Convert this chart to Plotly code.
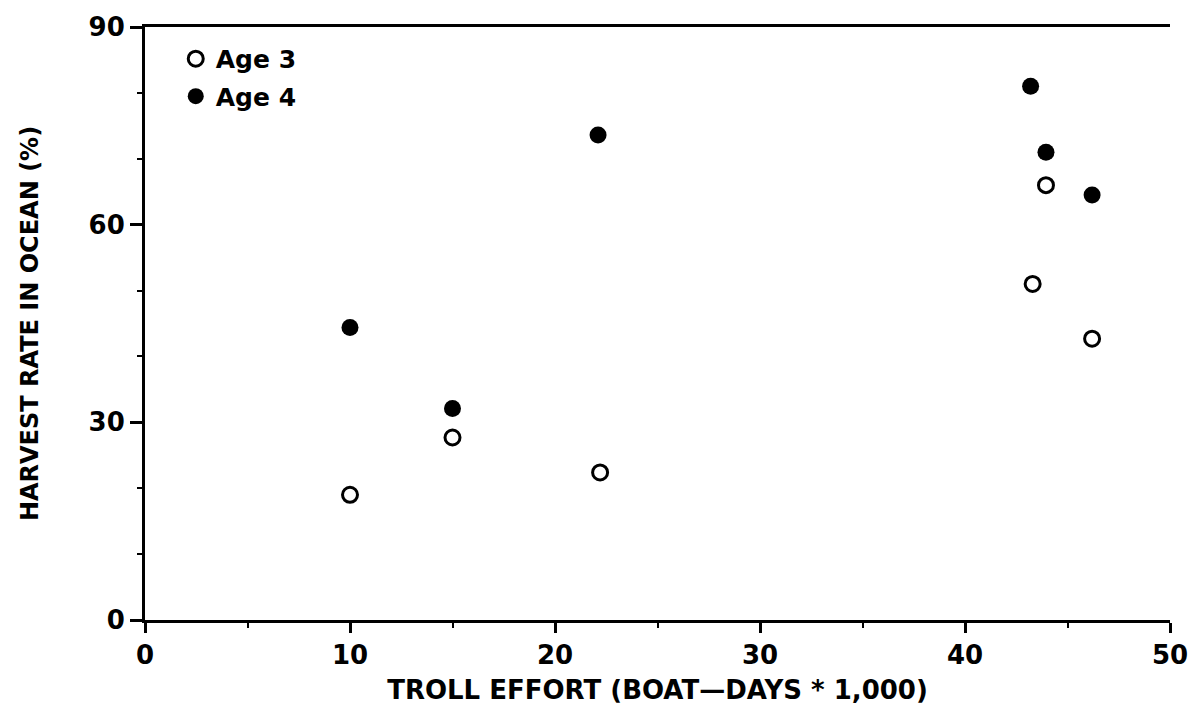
import plotly.graph_objects as go

# Data
effort_age3 = [10.0, 15.0, 22.2, 43.3, 43.95, 46.2]
harvest_age3 = [19.0, 27.7, 22.4, 51.0, 66.0, 42.7]
effort_age4 = [10.0, 15.0, 22.1, 43.2, 43.95, 46.2]
harvest_age4 = [44.4, 32.1, 73.6, 81.0, 71.0, 64.5]

x_ticks = [0, 10, 20, 30, 40, 50]
y_ticks = [0, 30, 60, 90]

FONT = "DejaVu Sans"

fig = go.Figure()
fig.add_trace(go.Scatter(
    x=effort_age3, y=harvest_age3, mode="markers", name="Age 3",
    legendgroup="a3",
    marker=dict(symbol="circle-open", size=15, color="black", line=dict(width=3, color="black")),
))
fig.add_trace(go.Scatter(
    x=effort_age4, y=harvest_age4, mode="markers", name="Age 4",
    legendgroup="a4",
    marker=dict(symbol="circle", size=17, color="black", line=dict(width=0)),
))

fig.update_layout(
    width=1200, height=713,
    margin=dict(l=145, r=29, t=21, b=93),
    paper_bgcolor="white", plot_bgcolor="white",
    font=dict(family=FONT, color="black"),
    showlegend=True,
    legend=dict(
        x=0.03, y=0.985, xanchor="left", yanchor="top",
        bgcolor="rgba(0,0,0,0)", borderwidth=0,
        font=dict(family=FONT, size=25, color="black", weight="bold"),
        tracegroupgap=2,
    ),
    xaxis=dict(
        range=[0, 50], tickvals=x_ticks, ticktext=[str(v) for v in x_ticks],
        showgrid=False, zeroline=False,
        showline=True, linecolor="black", linewidth=3, mirror=True,
        ticks="outside", ticklen=10, tickwidth=3, tickcolor="black",
        minor=dict(dtick=5, tick0=0, ticks="outside", ticklen=5, tickwidth=2, tickcolor="black"),
        tickfont=dict(family=FONT, size=26, color="black", weight="bold"),
        title=dict(text="TROLL EFFORT (BOAT\u2014DAYS * 1,000)",
                   font=dict(family=FONT, size=26, color="black", weight="bold"), standoff=12),
    ),
    yaxis=dict(
        range=[0, 90], tickvals=y_ticks, ticktext=[str(v) for v in y_ticks],
        showgrid=False, zeroline=False,
        showline=True, linecolor="black", linewidth=3,
        ticks="outside", ticklen=12, tickwidth=3, tickcolor="black",
        minor=dict(dtick=10, tick0=0, ticks="outside", ticklen=5, tickwidth=2, tickcolor="black"),
        tickfont=dict(family=FONT, size=26, color="black", weight="bold"),
        title=dict(text="HARVEST RATE IN OCEAN (%)",
                   font=dict(family=FONT, size=24, color="black", weight="bold"), standoff=44),
    ),
    yaxis2=dict(
        range=[0, 90], overlaying="y", side="right", anchor="x",
        showgrid=False, zeroline=False, showticklabels=False,
        showline=True, linecolor="black", linewidth=3,
        tickmode="linear", tick0=0, dtick=10,
        ticks="outside", ticklen=9, tickwidth=2, tickcolor="black",
    ),
)

fig.write_html("out.html")
